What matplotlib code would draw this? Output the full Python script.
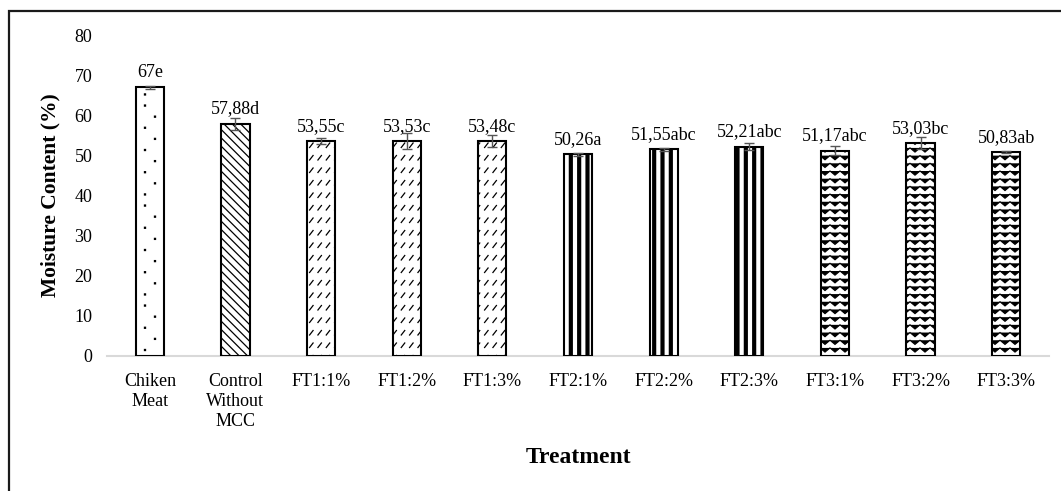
import numpy as np
import matplotlib
matplotlib.use("Agg")
import matplotlib.pyplot as plt
import matplotlib.hatch as mhatch
from matplotlib.path import Path
from matplotlib.patches import Rectangle

# ---------------- data ----------------
categories = ["Chiken\nMeat", "Control\nWithout\nMCC", "FT1:1%", "FT1:2%", "FT1:3%",
              "FT2:1%", "FT2:2%", "FT2:3%", "FT3:1%", "FT3:2%", "FT3:3%"]
moisture = [67.00, 57.88, 53.55, 53.53, 53.48, 50.26, 51.55, 52.21, 51.17, 53.03, 50.83]
errors = [0.4, 1.5, 0.7, 2.0, 1.5, 0.4, 0.4, 0.8, 1.2, 1.5, 0.3]
value_labels = ["67e", "57,88d", "53,55c", "53,53c", "53,48c", "50,26a", "51,55abc",
                "52,21abc", "51,17abc", "53,03bc", "50,83ab"]
y_ticks = [0, 10, 20, 30, 40, 50, 60, 70, 80]

# ---------------- custom hatch patterns ----------------
class SmallDots(mhatch.HatchPatternBase):
    def __init__(self, hatch, density):
        n = hatch.count('p')
        self.rows = 9 * n
        self.cols = 5 * n
        self.num_vertices = self.rows * self.cols * 5

    def set_vertices_and_codes(self, vertices, codes):
        s = 0.006
        k = 0
        for r in range(self.rows):
            for c in range(self.cols):
                cx = (c + 0.25 + 0.5 * (r % 2)) / self.cols
                cy = (r + 0.5) / self.rows
                vertices[k:k + 5] = [(cx - s, cy - s), (cx + s, cy - s), (cx + s, cy + s),
                                     (cx - s, cy + s), (cx - s, cy - s)]
                codes[k] = Path.MOVETO
                codes[k + 1:k + 4] = Path.LINETO
                codes[k + 4] = Path.CLOSEPOLY
                k += 5


class DashedDiagonal(mhatch.HatchPatternBase):
    def __init__(self, hatch, density):
        n = hatch.count('d')
        self.rows = 8 * n
        self.cols = 12 * n
        self.num_vertices = self.rows * self.cols * 2

    def set_vertices_and_codes(self, vertices, codes):
        k = 0
        for r in range(self.rows):
            for c in range(self.cols):
                x0 = (c + 0.15) / self.cols
                y0 = (r + 0.2) / self.rows
                vertices[k] = (x0, y0)
                vertices[k + 1] = (x0 + 0.035, y0 + 0.045)
                codes[k] = Path.MOVETO
                codes[k + 1] = Path.LINETO
                k += 2


class ZigZag(mhatch.HatchPatternBase):
    def __init__(self, hatch, density):
        n = hatch.count('z')
        self.rows = 13 * n
        self.periods = 10
        self.npts = 2 * self.periods + 1
        self.num_vertices = self.rows * self.npts if n else 0

    def set_vertices_and_codes(self, vertices, codes):
        xs = np.linspace(0, 1, self.npts)
        amp = 0.27 / self.rows
        sign = np.array([(-1) ** i for i in range(self.npts)], dtype=float)
        k = 0
        for r in range(self.rows):
            y0 = (r + 0.5) / self.rows
            vertices[k:k + self.npts, 0] = xs
            vertices[k:k + self.npts, 1] = y0 + amp * sign
            codes[k] = Path.MOVETO
            codes[k + 1:k + self.npts] = Path.LINETO
            k += self.npts


mhatch._hatch_types.extend([SmallDots, DashedDiagonal, ZigZag])
mhatch._validate_hatch_pattern = lambda h: None

hatches = ['p', '\\\\\\\\', 'd', 'd', 'd', '||', '||', '||', 'z', 'z', 'z']
hatch_lw = [0.8, 0.9, 0.9, 0.9, 0.9, 3.0, 3.0, 3.0, 0.85, 0.85, 0.85]

# ---------------- figure ----------------
plt.rcParams['font.family'] = ['Liberation Serif', 'DejaVu Serif']

fig = plt.figure(figsize=(10.61, 4.91), dpi=100)
W, H = 1061, 491
ax = fig.add_axes([107 / W, 1 - 356 / H, (1049 - 107) / W, (356 - 35) / H])

x = np.arange(len(categories))
for i in range(len(categories)):
    with plt.rc_context({'hatch.linewidth': hatch_lw[i]}):
        b = ax.bar(x[i], moisture[i], width=0.33, color='white', edgecolor='black',
                   linewidth=1.5, hatch=hatches[i], zorder=2)
    for p in b.patches:
        if hasattr(p, 'set_hatch_linewidth'):
            p.set_hatch_linewidth(hatch_lw[i])

ax.errorbar(x, moisture, yerr=errors, fmt='none', ecolor='#555555', elinewidth=1.0,
            capsize=3.5, capthick=1.0, zorder=3)

for i in range(len(categories)):
    ax.annotate(value_labels[i], (x[i], moisture[i]), xytext=(0, 4.5),
                textcoords='offset points', ha='center', va='bottom', fontsize=13)

ax.set_xlim(-0.5, len(categories) - 0.5)
ax.set_ylim(0, 80)
ax.set_yticks(y_ticks)
ax.set_xticks(x)
ax.set_xticklabels(categories, fontsize=13, linespacing=1.25)
ax.tick_params(axis='y', length=0, pad=10.5, labelsize=13)
ax.tick_params(axis='x', length=0, pad=12)

for s in ['top', 'right', 'left']:
    ax.spines[s].set_visible(False)
ax.spines['bottom'].set_color('#d9d9d9')
ax.spines['bottom'].set_linewidth(1.5)
ax.spines['bottom'].set_zorder(1)

ax.set_ylabel("Moisture Content (%)", fontsize=15.5, fontweight='bold')
ax.yaxis.label.set_va('center')
ax.yaxis.set_label_coords((50 - 107) / 942, 0.5)
ax.set_xlabel("Treatment", fontsize=17, fontweight='bold')
ax.xaxis.label.set_va('baseline')
ax.xaxis.set_label_coords(0.5, (356 - 463) / 321)

# outer frame (extends past right and bottom edges, as in the reference)
frame = Rectangle((9 / W, -0.2), 1.2, 1.2 - 11 / H, transform=fig.transFigure,
                  fill=False, edgecolor='#1a1a1a', linewidth=1.6, clip_on=False)
fig.patches.append(frame)

fig.savefig("out.png", dpi=100)
